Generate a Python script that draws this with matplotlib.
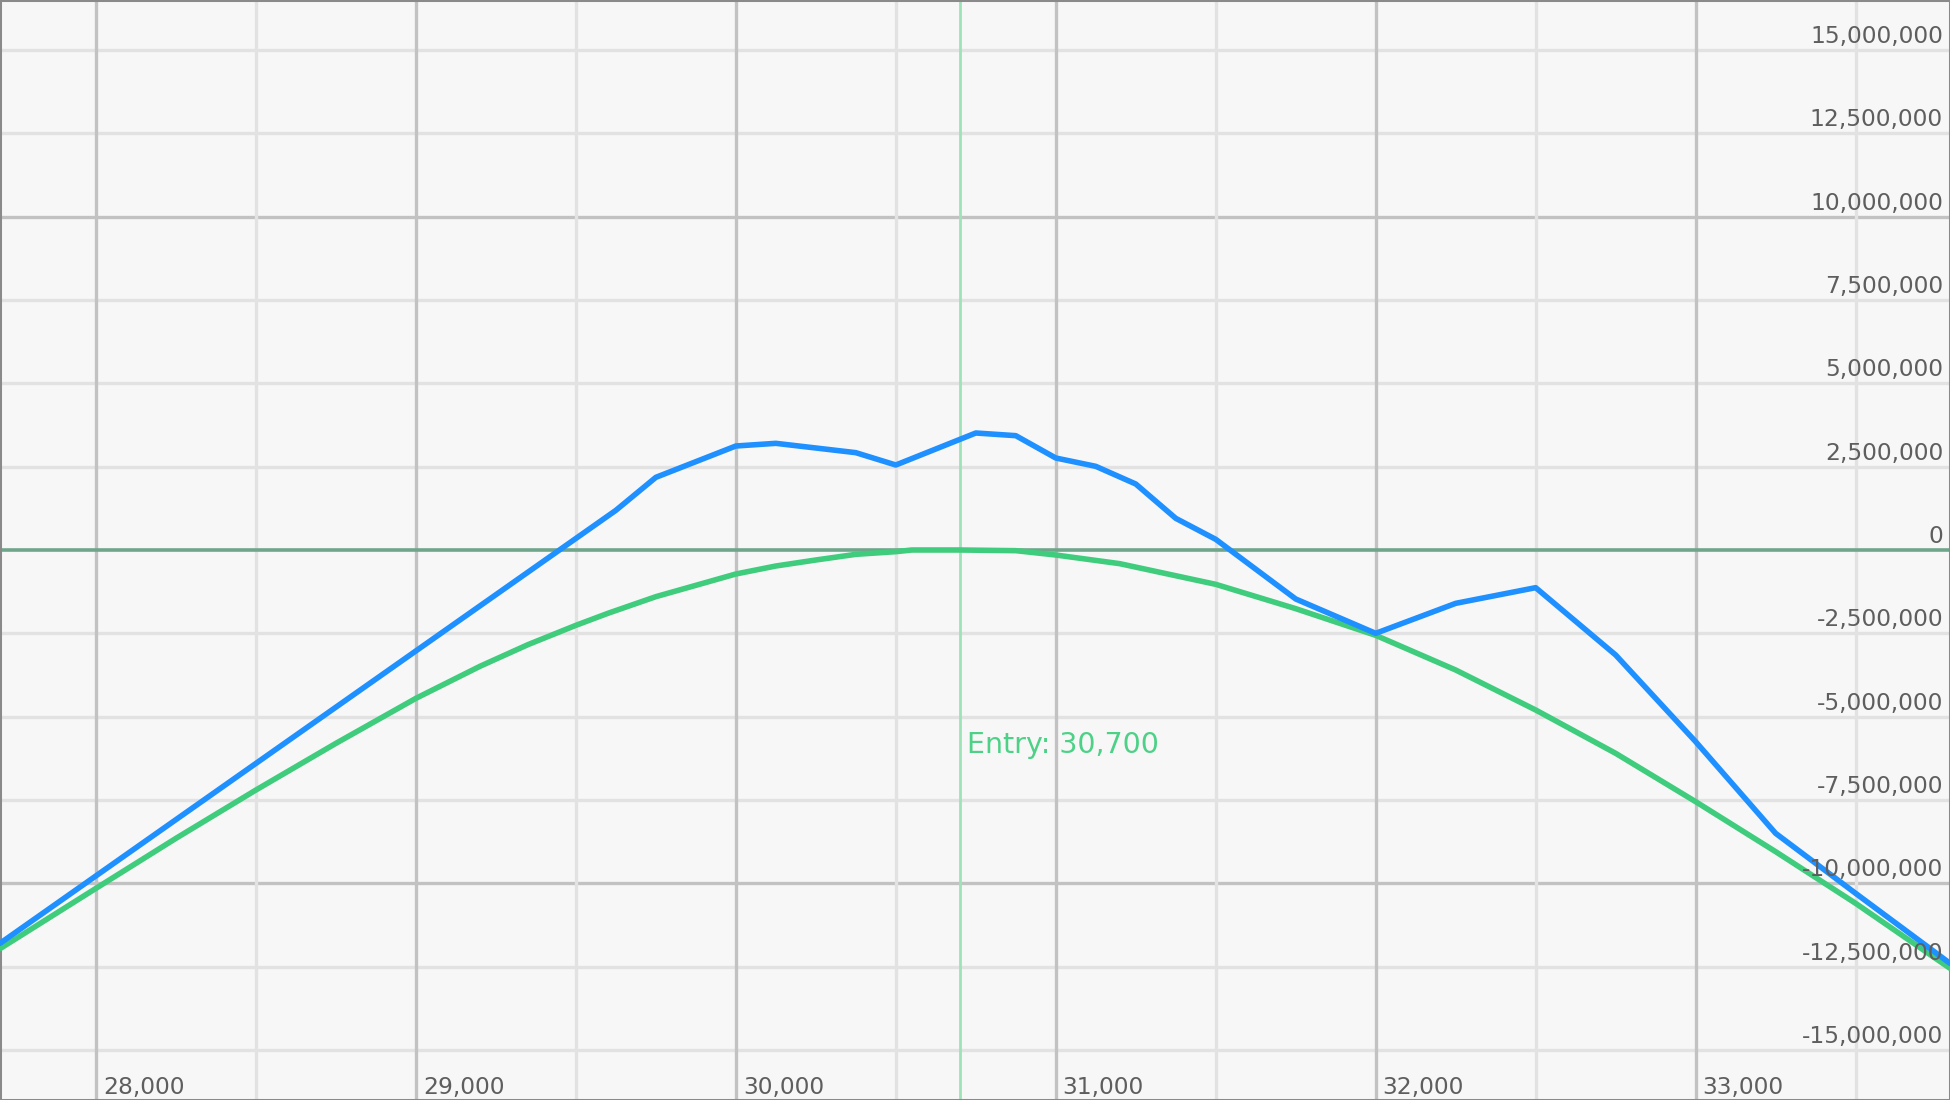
import matplotlib
matplotlib.use("Agg")
import matplotlib.pyplot as plt
from matplotlib.transforms import blended_transform_factory

# ---- data ----
blue_x = [27700, 29625, 29750, 30000, 30125, 30375, 30500, 30750, 30875, 31000,
          31125, 31250, 31375, 31500, 31750, 32000, 32250, 32500, 32750, 33000,
          33250, 33500, 33795]
blue_y = [-11.8, 1.19, 2.18, 3.12, 3.20, 2.92, 2.55, 3.51, 3.43, 2.76,
          2.51, 1.98, 0.95, 0.32, -1.47, -2.50, -1.60, -1.13, -3.15, -5.75,
          -8.50, -10.30, -12.40]

green_x = [27700, 28000, 28250, 28500, 28750, 29000, 29200, 29350, 29500, 29600,
           29750, 30000, 30125, 30250, 30375, 30500, 30550, 30700, 30875, 31000,
           31200, 31500, 31750, 32000, 32250, 32500, 32750, 33000, 33250, 33500,
           33795]
green_y = [-11.96, -10.15, -8.65, -7.20, -5.80, -4.45, -3.49, -2.84, -2.26, -1.90,
           -1.40, -0.72, -0.48, -0.30, -0.13, -0.05, 0.0, 0.0, -0.02, -0.15,
           -0.41, -1.03, -1.76, -2.56, -3.60, -4.80, -6.10, -7.55, -9.05, -10.60,
           -12.55]

entry_price = 30700
x_major = [28000, 29000, 30000, 31000, 32000, 33000]
x_minor = [28500, 29500, 30500, 31500, 32500, 33500]
y_ticks = [-15.0, -12.5, -10.0, -7.5, -5.0, -2.5, 0.0, 2.5, 5.0, 7.5, 10.0, 12.5, 15.0]
y_major = [-10.0, 10.0]

SCALE = 1_000_000

# ---- figure ----
fig = plt.figure(figsize=(19.5, 11), dpi=100)
fig.patch.set_facecolor("#f7f7f7")
ax = fig.add_axes([0, 0, 1, 1])
ax.set_facecolor("#f7f7f7")
ax.set_xlim(27700, 33795)
ax.set_ylim(-16.5 * SCALE, 16.5 * SCALE)
ax.set_xticks([])
ax.set_yticks([])
for s in ax.spines.values():
    s.set_color("#8a8a8a")
    s.set_linewidth(2.2)

# grid
for v in y_ticks:
    if v == 0:
        continue
    if v in y_major:
        ax.axhline(v * SCALE, color="#c2c2c2", lw=2.4, zorder=1)
    else:
        ax.axhline(v * SCALE, color="#e2e2e2", lw=2.4, zorder=1)
for v in x_minor:
    ax.axvline(v, color="#e2e2e2", lw=2.4, zorder=1)
for v in x_major:
    ax.axvline(v, color="#c2c2c2", lw=2.4, zorder=1)
ax.axhline(0, color="#6fa58a", lw=2.6, zorder=1.5)

# entry line
ax.axvline(entry_price, color="#9ee3b7", lw=2, zorder=1.6)

# series
ax.plot(green_x, [v * SCALE for v in green_y], color="#3fcc7c", lw=4.0,
        solid_joinstyle="round", solid_capstyle="round", zorder=3)
ax.plot(blue_x, [v * SCALE for v in blue_y], color="#1e90ff", lw=4.0,
        solid_joinstyle="round", solid_capstyle="round", zorder=4)

# y tick labels (inside, right, above gridline)
trans_y = blended_transform_factory(ax.transAxes, ax.transData)
for v in y_ticks:
    lab = "0" if v == 0 else f"{int(round(v * SCALE)):,}"
    ax.annotate(lab, xy=(1, v * SCALE), xycoords=trans_y,
                xytext=(-5.0, 5), textcoords="offset points",
                ha="right", va="baseline", fontsize=16.8, color="#5e5e5e",
                family="DejaVu Sans", zorder=5)

# x tick labels (inside, bottom)
trans_x = blended_transform_factory(ax.transData, ax.transAxes)
for v in x_major:
    ax.annotate(f"{v:,}", xy=(v, 0), xycoords=trans_x,
                xytext=(5.0, 4.3), textcoords="offset points",
                ha="left", va="baseline", fontsize=16.8, color="#5e5e5e",
                family="DejaVu Sans", zorder=5)

# entry label
ax.annotate(f"Entry: {entry_price:,}", xy=(entry_price, -6.09 * SCALE),
            xytext=(5.0, 0), textcoords="offset points",
            ha="left", va="baseline", fontsize=20.5, color="#4cd186",
            family="DejaVu Sans", zorder=5)

fig.savefig("out.png", dpi=100, facecolor=fig.get_facecolor())
